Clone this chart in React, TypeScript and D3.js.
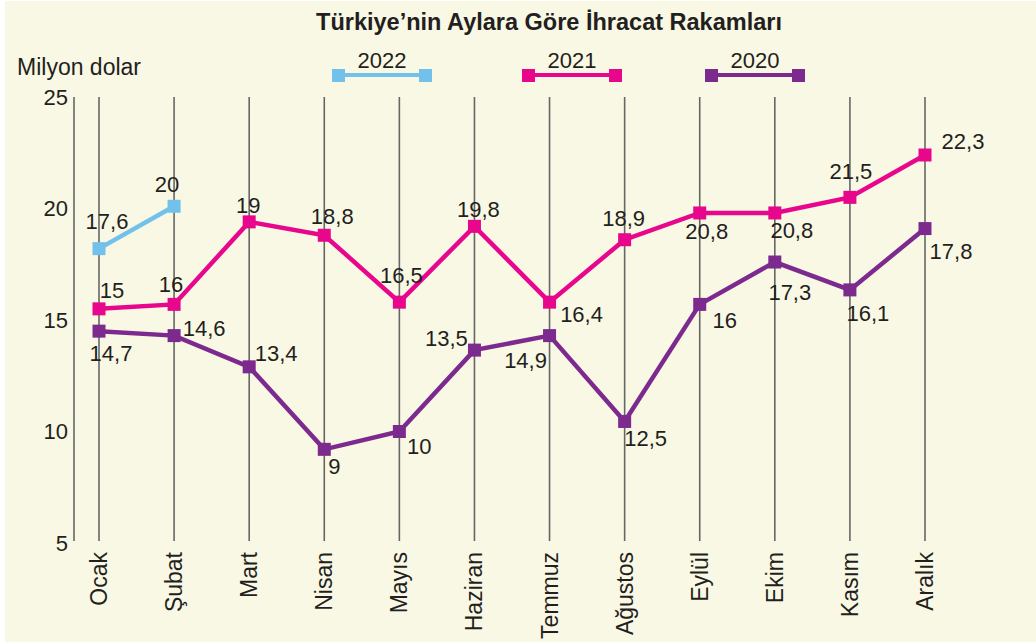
import React, { useEffect } from "react";
import * as d3 from "d3";

const months = ["Ocak", "Şubat", "Mart", "Nisan", "Mayıs", "Haziran", "Temmuz", "Ağustos", "Eylül", "Ekim", "Kasım", "Aralık"];
const yTicks = [5, 10, 15, 20, 25];

// plotted values as drawn in the picture, printed labels as written
const values2022 = [18.2, 20.1];
const labels2022 = ["17,6", "20"];
const values2021 = [15.5, 15.7, 19.4, 18.8, 15.8, 19.2, 15.8, 18.6, 19.8, 19.8, 20.5, 22.4];
const labels2021 = ["15", "16", "19", "18,8", "16,5", "19,8", "16,4", "18,9", "20,8", "20,8", "21,5", "22,3"];
const values2020 = [14.5, 14.3, 12.9, 9.2, 10.0, 13.65, 14.3, 10.45, 15.7, 17.6, 16.35, 19.1];
const labels2020 = ["14,7", "14,6", "13,4", "9", "10", "13,5", "14,9", "12,5", "16", "17,3", "16,1", "17,8"];

// label offsets (dx, dy of text centre from marker)
const off2022 = [[8, -28], [-7, -22]];
const off2021 = [[13, -19], [-3, -20], [-1, -17], [8, -19], [2, -27], [4, -17], [32, 12], [-1, -22], [7, 18], [17, 17], [1, -26], [38, -14]];
const off2020 = [[12, 22], [30, -8], [27, -14], [10, 17], [20, 15], [-28, -12], [-24, 24], [21, 17], [25, 16], [15, 30], [18, 23], [26, 23]];

const W = 1036, H = 643;
const FONT = "'Liberation Sans', Arial, Helvetica, sans-serif";
const INK = "#231f20";

export default function App() {
  useEffect(() => {
    document.body.style.margin = "0";
  }, []);

  const x = d3.scaleLinear().domain([0, 11]).range([99, 925]);
  const y = d3.scaleLinear().domain([5, 25]).range([543, 97]);
  const line = d3.line<number>().x((_, i) => x(i)).y(d => y(d));

  const series = [
    { name: "2020", color: "#7d2a8f", values: values2020, labels: labels2020, off: off2020, lx: 705 },
    { name: "2021", color: "#e8078c", values: values2021, labels: labels2021, off: off2021, lx: 522 },
    { name: "2022", color: "#72c1ea", values: values2022, labels: labels2022, off: off2022, lx: 332 },
  ];

  return (
    <svg width={W} height={H} style={{ display: "block" }} fontFamily={FONT}>
      <rect x={0} y={0} width={W} height={H} fill="#ffffff" />
      <rect x={5} y={1} width={W - 5} height={H - 2} fill="#f9f8e5" />

      <text x={549} y={30} textAnchor="middle" fontWeight="bold" fontSize={23.5} fill={INK}>
        Türkiye’nin Aylara Göre İhracat Rakamları
      </text>
      <text x={17} y={75} fontSize={23} fill={INK}>Milyon dolar</text>

      {/* y axis */}
      <line x1={74} x2={74} y1={y(25)} y2={y(5) - 2} stroke="#666" strokeWidth={1.6} />
      {yTicks.map(t => (
        <text key={t} x={68} y={y(t)} dy="0.35em" textAnchor="end" fontSize={22} fill={INK}>{t}</text>
      ))}

      {/* month gridlines */}
      {months.map((m, i) => (
        <g key={m}>
          <line x1={x(i)} x2={x(i)} y1={y(25)} y2={y(5) - 2} stroke="#666" strokeWidth={1.6} />
          <text
            transform={`translate(${x(i) + 8},552) rotate(-90)`}
            textAnchor="end"
            fontSize={23}
            fill={INK}
          >{m}</text>
        </g>
      ))}

      {/* legend */}
      {series.map(s => (
        <g key={"lg" + s.name}>
          <line x1={s.lx + 6} x2={s.lx + 94} y1={75} y2={75} stroke={s.color} strokeWidth={4} />
          <rect x={s.lx} y={69} width={13} height={13} fill={s.color} />
          <rect x={s.lx + 87} y={69} width={13} height={13} fill={s.color} />
          <text x={s.lx + 50} y={68} textAnchor="middle" fontSize={22} fill={INK}>{s.name}</text>
        </g>
      ))}

      {/* series */}
      {series.map(s => (
        <g key={s.name}>
          <path d={line(s.values) || ""} fill="none" stroke={s.color} strokeWidth={4.5} strokeLinejoin="miter" />
          {s.values.map((v, i) => (
            <rect key={i} x={x(i) - 6.5} y={y(v) - 6.5} width={13} height={13} fill={s.color} />
          ))}
          {s.labels.map((l, i) => (
            <text
              key={"t" + i}
              x={x(i) + s.off[i][0]}
              y={y(s.values[i]) + s.off[i][1]}
              dy="0.36em"
              textAnchor="middle"
              fontSize={22}
              fill={INK}
            >{l}</text>
          ))}
        </g>
      ))}
    </svg>
  );
}
